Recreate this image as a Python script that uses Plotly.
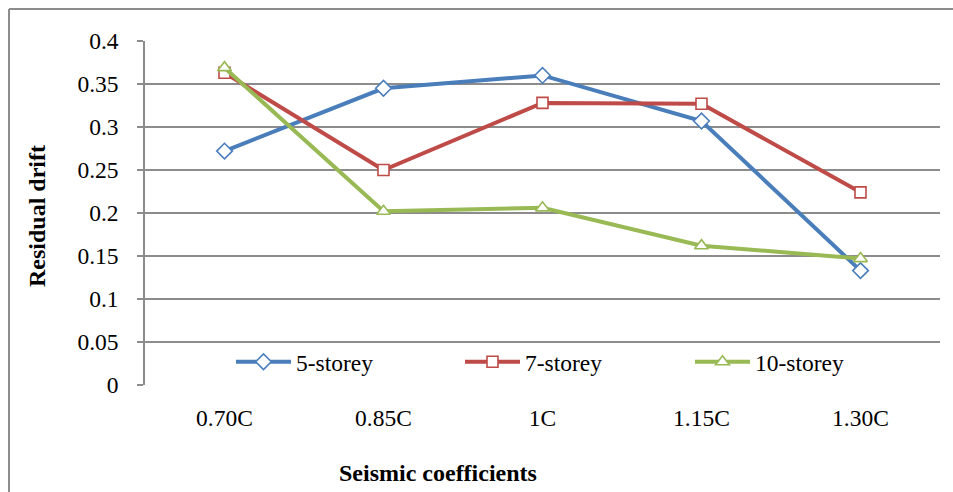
import plotly.graph_objects as go

categories = ["0.70C", "0.85C", "1C", "1.15C", "1.30C"]
s5 = [0.272, 0.345, 0.360, 0.307, 0.133]
s7 = [0.363, 0.250, 0.328, 0.327, 0.224]
s10 = [0.369, 0.202, 0.206, 0.162, 0.147]
y_ticks = [0, 0.05, 0.1, 0.15, 0.2, 0.25, 0.3, 0.35, 0.4]
y_tick_labels = ["0", "0.05", "0.1", "0.15", "0.2", "0.25", "0.3", "0.35", "0.4"]

W, H = 953, 492
L, R, T, B = 145, 13, 41, 107
PW, PH = W - L - R, H - T - B
FONT = "'Liberation Serif', 'Times New Roman', serif"
FS = 23.5

series = [
    ("5-storey", s5, "#4A7EBB", "diamond", 12, "legend", 231),
    ("7-storey", s7, "#BE4B48", "square", 11, "legend2", 460),
    ("10-storey", s10, "#98B954", "triangle-up", 12, "legend3", 690),
]


def px_x(p):
    return (p - L) / PW


def px_y(p):
    return (H - B - p) / PH


fig = go.Figure()
legends = {}
for name, vals, col, sym, sz, lg, lx in series:
    fig.add_trace(go.Scatter(
        x=categories, y=vals, name=name, mode="lines+markers",
        line=dict(color=col, width=4),
        marker=dict(symbol=sym, size=sz, color="white", line=dict(color=col, width=1.6)),
        legend=lg,
    ))
    legends[lg] = dict(
        orientation="h", x=px_x(lx), y=px_y(362), xanchor="left", yanchor="middle",
        bgcolor="rgba(0,0,0,0)", font=dict(family=FONT, size=FS),
        itemwidth=55, borderwidth=0,
    )

fig.update_layout(
    width=W, height=H,
    margin=dict(l=L, r=R, t=T, b=B, pad=0),
    paper_bgcolor="white", plot_bgcolor="white",
    font=dict(family=FONT, size=FS, color="black"),
    showlegend=True,
    xaxis=dict(
        type="category", range=[-0.5, 4.5], showgrid=False, zeroline=False,
        showline=False, ticks="", tickfont=dict(family=FONT, size=FS),
        ticklabelstandoff=16,
    ),
    yaxis=dict(
        range=[0, 0.4], tickvals=y_ticks, ticktext=y_tick_labels,
        showgrid=True, gridcolor="#8C8C8C", gridwidth=1.5,
        zeroline=False, showline=True, linecolor="#8C8C8C", linewidth=1.5,
        ticks="outside", ticklen=6, tickcolor="#8C8C8C", tickwidth=1.5,
        tickfont=dict(family=FONT, size=FS), ticklabelstandoff=14,
    ),
    shapes=[
        dict(type="line", xref="paper", yref="paper", x0=px_x(9), x1=px_x(953), y0=px_y(9), y1=px_y(9),
             line=dict(color="#8C8C8C", width=2)),
        dict(type="line", xref="paper", yref="paper", x0=px_x(9), x1=px_x(9), y0=px_y(9), y1=px_y(492),
             line=dict(color="#8C8C8C", width=2)),
    ],
    annotations=[
        dict(text="<b>Seismic coefficients</b>", xref="paper", yref="paper",
             x=px_x(438), y=px_y(473), xanchor="center", yanchor="middle",
             showarrow=False, font=dict(family=FONT, size=24)),
        dict(text="<b>Residual drift</b>", xref="paper", yref="paper", textangle=-90,
             x=px_x(37), y=px_y(216), xanchor="center", yanchor="middle",
             showarrow=False, font=dict(family=FONT, size=24)),
    ],
    **legends,
)

fig.write_html("out.html")
